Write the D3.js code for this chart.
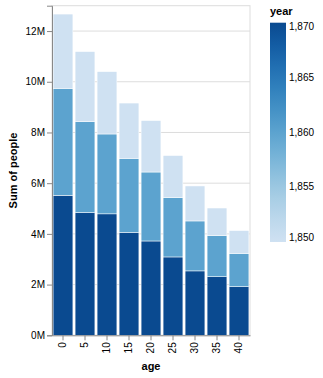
<!DOCTYPE html>
<html>
<head>
<meta charset="utf-8">
<script src="https://cdn.jsdelivr.net/npm/d3@7"></script>
<style>
  body { margin: 0; background: #fff; }
  text { font-family: "Liberation Sans", Arial, sans-serif; }
</style>
</head>
<body>
<div id="chart"></div>
<script>
// data (millions of people)
const ages = [0, 5, 10, 15, 20, 25, 30, 35, 40]
const years = [1870, 1860, 1850]   // stacking order, bottom first
const people1850 = [2.93, 2.76, 2.46, 2.18, 2.03, 1.66, 1.38, 1.09, 0.90]
const people1860 = [4.22, 3.59, 3.15, 2.92, 2.72, 2.34, 1.97, 1.62, 1.31]
const people1870 = [5.52, 4.84, 4.79, 4.06, 3.72, 3.09, 2.54, 2.31, 1.92]
const yTicks = [0, 2, 4, 6, 8, 10, 12]
const legendTicks = [1850, 1855, 1860, 1865, 1870]

const series = { 1850: people1850, 1860: people1860, 1870: people1870 }
const rows = ages.map((a, i) => {
    const r = { age: a }
    years.forEach(y => r[y] = series[y][i] * 1e6)
    return r
})

const W = 323, H = 378
const margin = { top: 5.7, left: 52, right: 73, bottom: 42.7 }
const width = W - margin.left - margin.right
const height = H - margin.top - margin.bottom

const svg = d3.select("#chart").append("svg")
    .attr("width", W)
    .attr("height", H)
const g = svg.append("g")
    .attr("transform", `translate(${margin.left},${margin.top})`)

const x = d3.scaleBand().domain(ages).range([0, width]).paddingInner(0.1).paddingOuter(0.05)
const y = d3.scaleLinear().domain([0, 13e6]).range([height, 0])
const blues = d3.interpolateRgbBasis(["#cfe1f2", "#bed8ec", "#a8cee5", "#8fc1de", "#74b2d7", "#5ba3cf", "#4592c6", "#3181bd", "#206fb2", "#125ca4", "#0a4a90"])
const color = d3.scaleSequential(blues).domain([1850, 1870])

// grid
g.selectAll(".grid")
    .data(yTicks.map(d => d * 1e6))
    .join("line")
    .attr("x1", 0).attr("x2", width)
    .attr("y1", d => y(d)).attr("y2", d => y(d))
    .attr("stroke", "#ddd")
// frame
g.append("rect")
    .attr("width", width).attr("height", height)
    .attr("fill", "none").attr("stroke", "#ddd")

const stacked = d3.stack().keys(years)(rows)
g.selectAll(".layer")
    .data(stacked)
    .join("g")
    .attr("fill", d => color(+d.key))
    .selectAll("rect")
    .data(d => d)
    .join("rect")
    .attr("x", d => x(d.data.age))
    .attr("width", x.bandwidth())
    .attr("y", d => y(d[1]))
    .attr("height", d => y(d[0]) - y(d[1]))
    .attr("stroke", "white")
    .attr("stroke-width", 0.5)

// y axis
const yAxis = g.append("g")
    .call(d3.axisLeft(y).tickValues(yTicks.map(d => d * 1e6)).tickFormat(d => `${d / 1e6}M`).tickSize(5).tickPadding(2))
yAxis.selectAll("path, line").attr("stroke", "#888")
yAxis.selectAll("text").attr("fill", "#000").style("font-size", "10px")

// x axis
const xAxis = g.append("g")
    .attr("transform", `translate(0,${height})`)
    .call(d3.axisBottom(x).tickSize(5).tickPadding(2).tickSizeOuter(0))
xAxis.selectAll("path, line").attr("stroke", "#888")
xAxis.selectAll("text")
    .attr("fill", "#000")
    .style("font-size", "10px")
    .attr("transform", "rotate(-90)")
    .attr("x", -7).attr("y", 0).attr("dy", "0.32em")
    .style("text-anchor", "end")

// axis titles
g.append("text")
    .attr("transform", `translate(${-35.5},${height / 2}) rotate(-90)`)
    .style("text-anchor", "middle")
    .style("font-size", "11px").style("font-weight", "bold")
    .text("Sum of people")
g.append("text")
    .attr("x", width / 2).attr("y", height + 35)
    .style("text-anchor", "middle")
    .style("font-size", "11px").style("font-weight", "bold")
    .text("age")

// legend
const lx = 270, ly0 = 22.7, ly1 = 242
const defs = svg.append("defs")
const grad = defs.append("linearGradient").attr("id", "yearGrad")
    .attr("x1", 0).attr("y1", 1).attr("x2", 0).attr("y2", 0)
d3.range(0, 1.0001, 0.1).forEach(t => {
    grad.append("stop").attr("offset", t).attr("stop-color", blues(t))
})
svg.append("text")
    .attr("x", lx).attr("y", 15)
    .style("font-size", "11px").style("font-weight", "bold")
    .text("year")
svg.append("rect")
    .attr("x", lx).attr("y", ly0).attr("width", 16).attr("height", ly1 - ly0)
    .attr("fill", "url(#yearGrad)")
const ly = d3.scaleLinear().domain([1850, 1870]).range([ly1, ly0])
svg.selectAll(".ltick")
    .data(legendTicks)
    .join("text")
    .attr("x", lx + 19)
    .attr("y", d => ly(d))
    .attr("dy", d => d === 1870 ? "0.75em" : d === 1850 ? "-0.15em" : "0.32em")
    .style("font-size", "10px")
    .text(d => d3.format(",")(d))
</script>
</body>
</html>
